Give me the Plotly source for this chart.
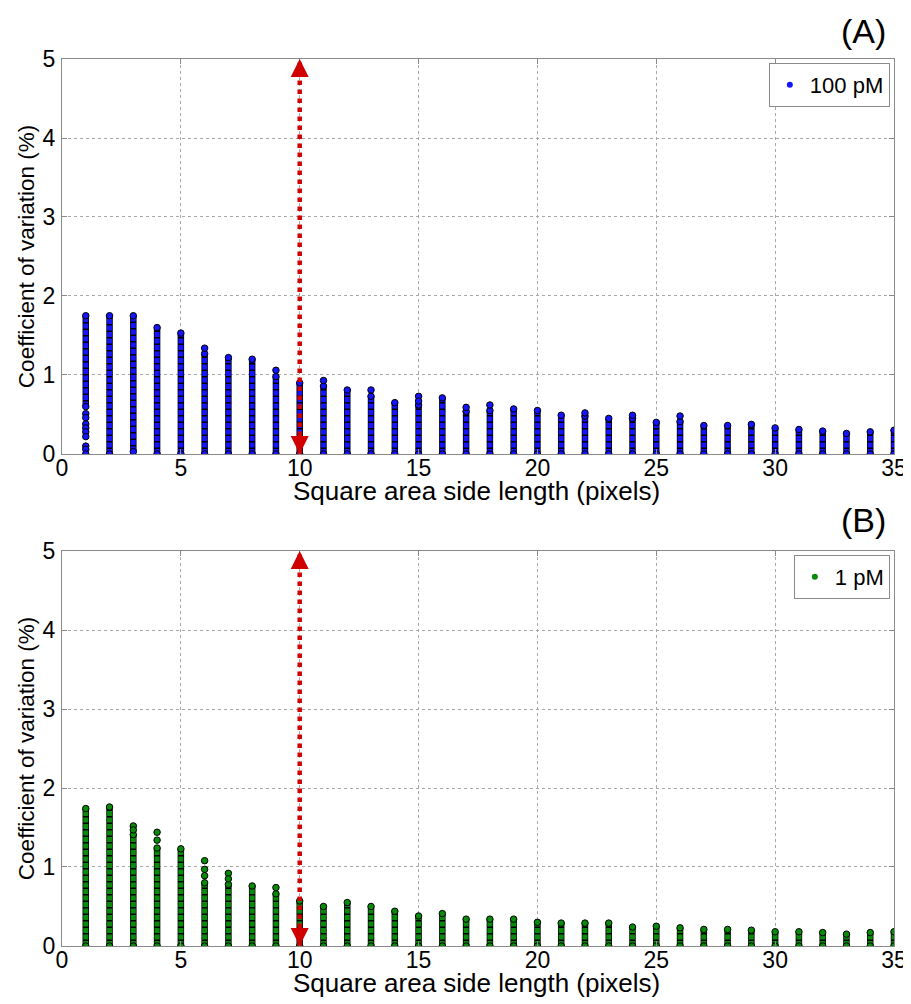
import plotly.graph_objects as go
from plotly.subplots import make_subplots

# ---------------- data ----------------
side_length = list(range(1, 36))

# Panel A: 100 pM — continuous stack of points per side length (bottom, top)
a_stack_bottom = [0.60, 0.00, 0.03, 0.00, 0.00, 0.00, 0.00, 0.00, 0.00, 0.00,
                  0.00, 0.00, 0.00, 0.00, 0.00, 0.00, 0.00, 0.00, 0.00, 0.00,
                  0.00, 0.00, 0.00, 0.00, 0.00, 0.00, 0.00, 0.00, 0.00, 0.00,
                  0.00, 0.00, 0.00, 0.00, 0.00]
a_stack_top = [1.75, 1.75, 1.75, 1.60, 1.53, 1.27, 1.22, 1.20, 0.98, 0.90,
               0.86, 0.81, 0.73, 0.65, 0.62, 0.71, 0.54, 0.55, 0.57, 0.55,
               0.49, 0.48, 0.45, 0.45, 0.40, 0.41, 0.36, 0.36, 0.375, 0.33,
               0.31, 0.29, 0.26, 0.28, 0.30]
# isolated points of panel A
a_extra_x = [1, 1, 1, 1, 1, 1, 1, 1, 1, 6, 9, 11, 13, 15, 15, 17, 18, 22, 24, 26]
a_extra_y = [0.51, 0.46, 0.38, 0.33, 0.28, 0.22, 0.10, 0.06, 0.00,
             1.34, 1.06, 0.93, 0.81, 0.73, 0.67, 0.59, 0.62, 0.52, 0.49, 0.48]

# Panel B: 1 pM
b_stack_bottom = [0.00] * 35
b_stack_top = [1.74, 1.76, 1.41, 1.24, 1.23, 0.80, 0.78, 0.76, 0.66, 0.57,
               0.50, 0.55, 0.50, 0.44, 0.38, 0.41, 0.34, 0.34, 0.34, 0.30,
               0.29, 0.29, 0.29, 0.24, 0.25, 0.23, 0.21, 0.21, 0.20, 0.18,
               0.18, 0.17, 0.15, 0.17, 0.18]
b_extra_x = [3, 3, 4, 4, 6, 6, 6, 7, 7, 9]
b_extra_y = [1.52, 1.47, 1.44, 1.34, 1.08, 0.97, 0.89, 0.92, 0.85, 0.74]

threshold_side = 10
y_limits = [0, 5]
x_limits = [0, 35]
x_ticks = [0, 5, 10, 15, 20, 25, 30, 35]
y_ticks = [0, 1, 2, 3, 4, 5]

FONT = "Liberation Sans, Arial, sans-serif"
BLUE = "#1414ff"
GREEN = "#0a8a0a"
RED = "#d00000"

fig = make_subplots(rows=2, cols=1, vertical_spacing=0.1094)
fig.update_layout(
    yaxis=dict(domain=[0.5547, 1.0]),
    yaxis2=dict(domain=[0.0, 0.4453]),
)


def add_panel(row, xs, bottoms, tops, ex_x, ex_y, color, name, legend):
    seg_x, seg_y = [], []
    end_x, end_y = [], []
    for x, b, t in zip(xs, bottoms, tops):
        seg_x += [x, x, None]
        seg_y += [b, t, None]
        end_x += [x, x]
        end_y += [b, t]
    # dark outline of stacked points
    fig.add_trace(go.Scatter(x=seg_x, y=seg_y, mode="lines",
                             line=dict(color="black", width=6.5),
                             showlegend=False, hoverinfo="skip"), row=row, col=1)
    # coloured fill of stacked points
    fig.add_trace(go.Scatter(x=seg_x, y=seg_y, mode="lines",
                             line=dict(color=color, width=5, dash="5px,1.5px"),
                             showlegend=False, hoverinfo="skip"), row=row, col=1)
    # end points and isolated points
    fig.add_trace(go.Scatter(x=end_x + ex_x, y=end_y + ex_y, mode="markers",
                             marker=dict(color=color, size=6.5,
                                         line=dict(color="black", width=1)),
                             showlegend=False, hoverinfo="skip"), row=row, col=1)
    # legend entry
    fig.add_trace(go.Scatter(x=[None], y=[None], mode="markers", name=name,
                             marker=dict(color=color, size=6),
                             legend=legend), row=row, col=1)
    # red dotted double arrow at threshold
    fig.add_trace(go.Scatter(x=[threshold_side, threshold_side], y=y_limits,
                             mode="lines",
                             line=dict(color=RED, width=4.5, dash="dot"),
                             showlegend=False, hoverinfo="skip"), row=row, col=1)
    xr = "x" if row == 1 else "x2"
    yr = "y" if row == 1 else "y2"
    for tip, tail in [(y_limits[1], y_limits[1] - 0.2), (y_limits[0], y_limits[0] + 0.2)]:
        fig.add_annotation(x=threshold_side, y=tip, ax=threshold_side, ay=tail,
                           xref=xr, yref=yr, axref=xr, ayref=yr, text="",
                           showarrow=True, arrowhead=2, arrowsize=1.2,
                           arrowwidth=3, arrowcolor=RED)


add_panel(1, side_length, a_stack_bottom, a_stack_top, a_extra_x, a_extra_y,
          BLUE, "100 pM", "legend")
add_panel(2, side_length, b_stack_bottom, b_stack_top, b_extra_x, b_extra_y,
          GREEN, "1 pM", "legend2")

axis_common = dict(
    showline=True, linecolor="#8a8a8a", linewidth=1.2, mirror="ticks",
    ticks="inside", ticklen=5, tickcolor="#8a8a8a",
    showgrid=True, gridcolor="#a8a8a8", griddash="dot", gridwidth=1,
    zeroline=False, tickfont=dict(family=FONT, size=23, color="black"),
)
for r in (1, 2):
    fig.update_xaxes(range=x_limits, tickvals=x_ticks, row=r, col=1,
                     ticklabelstandoff=-7, **axis_common)
    fig.update_yaxes(range=y_limits, tickvals=y_ticks, row=r, col=1,
                     ticklabelstandoff=1, **axis_common)

for r in (1, 2):
    xref = "x domain" if r == 1 else "x2 domain"
    yref = "y domain" if r == 1 else "y2 domain"
    fig.add_annotation(text="Square area side length (pixels)", xref=xref, yref=yref,
                       x=0.4976, y=0, yshift=-37, xanchor="center", yanchor="middle",
                       showarrow=False, font=dict(family=FONT, size=26, color="black"))
    fig.add_annotation(text="Coefficient of variation (%)", xref=xref, yref=yref,
                       x=-0.0425, y=0.5, xanchor="center", yanchor="middle",
                       textangle=-90, showarrow=False,
                       font=dict(family=FONT, size=22.5, color="black"))

fig.add_annotation(text="(A)", xref="paper", yref="paper", x=0.993, y=1.0316,
                   xanchor="right", yanchor="middle", showarrow=False,
                   font=dict(family=FONT, size=34, color="black"))
fig.add_annotation(text="(B)", xref="paper", yref="paper", x=0.993, y=0.480,
                   xanchor="right", yanchor="middle", showarrow=False,
                   font=dict(family=FONT, size=34, color="black"))

legend_common = dict(bgcolor="white", bordercolor="#8a8a8a", borderwidth=1,
                     font=dict(family=FONT, size=22, color="black"),
                     xanchor="right", yanchor="top", itemwidth=30,
                     tracegroupgap=0)
# the page adds an 8 px body margin, so the figure is 8 px smaller on each axis
fig.update_layout(
    width=903, height=996,
    margin=dict(l=54, r=17, t=51, b=58, autoexpand=False),
    paper_bgcolor="white", plot_bgcolor="white",
    font=dict(family=FONT, color="black"),
    legend=dict(x=0.995, y=0.9955, **legend_common),
    legend2=dict(x=0.995, y=0.4408, **legend_common),
)

fig.write_html("out.html")
